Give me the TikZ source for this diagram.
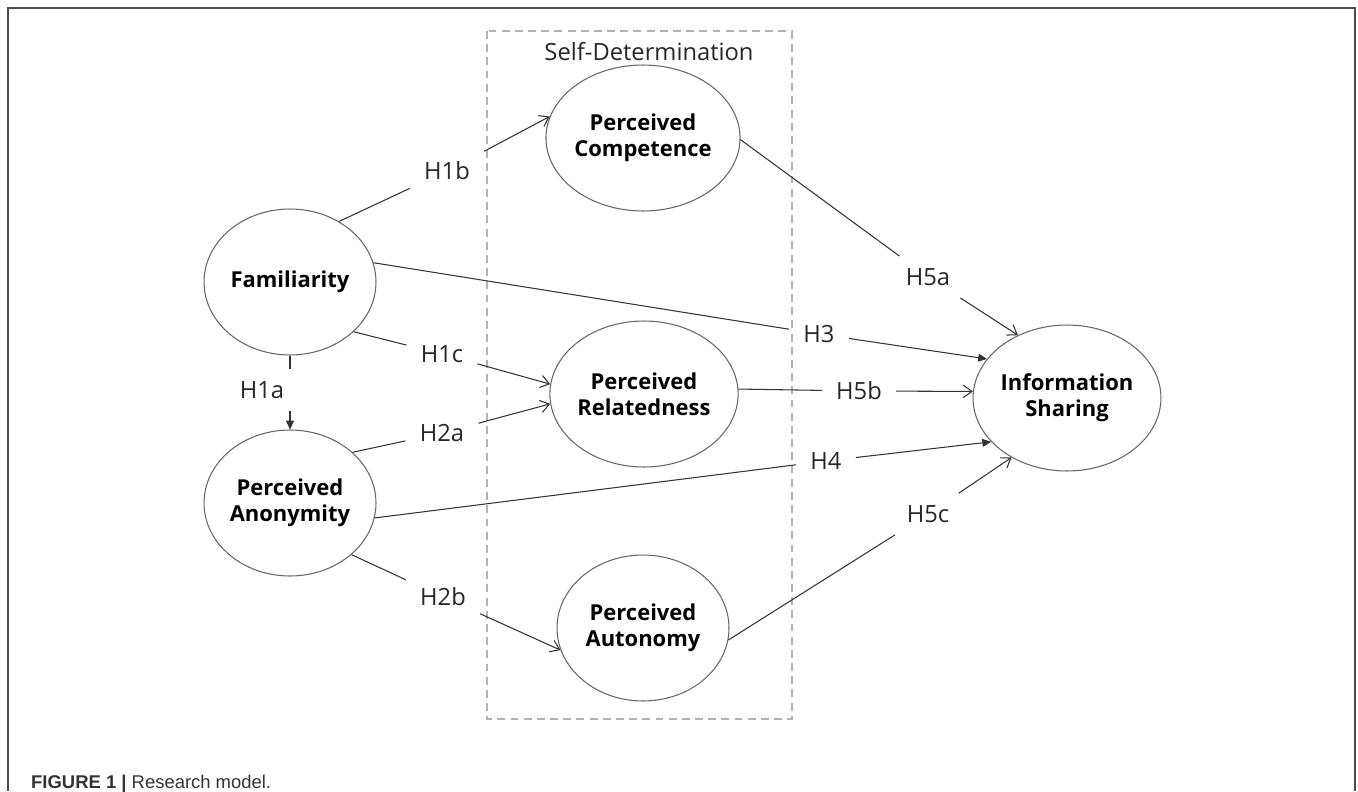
\documentclass[tikz,border=0pt]{standalone}
\usepackage{fontspec}
\setmainfont{Open Sans}
\newfontfamily\capfont{Liberation Sans}
\usepackage{tikz}
\usetikzlibrary{shapes.geometric,arrows.meta}

\tikzset{
  construct/.style={ellipse, draw=black!60, line width=0.6pt, minimum width=3.44cm, minimum height=2.92cm, inner sep=0pt, align=center, font=\fontsize{12.5}{15}\selectfont\bfseries},
  hyp/.style={inner xsep=0.28cm, inner ysep=0.24cm, font=\fontsize{13.5}{16}\selectfont, text=black!85},
  link/.style={draw=black!80, line width=0.6pt},
  openarr/.style={link, -{Straight Barb[length=5pt,width=7pt]}},
  fillarr/.style={link, -{Triangle[length=5pt,width=4.5pt]}},
}

\begin{document}
\begin{tikzpicture}[x=0.02cm, y=-0.02cm]
\useasboundingbox (0,0) rectangle (1358,791);
% frame and group box
\draw [black!70, line width=1.1pt] (8,791) -- (8,8) -- (1355,8) -- (1355,791);
\draw [black!30, line width=0.8pt, dash pattern=on 4.5pt off 3pt] (487,31) rectangle (792,719);
\node [font=\fontsize{13.5}{16}\selectfont, text=black!85] (sdt) at (649,52) {Self-Determination};

\node [construct] (fam) at (290,282) {Familiarity};
\node [construct] (anon) at (290,503) {Perceived\\Anonymity};
\node [construct] (comp) at (643,138) {Perceived\\Competence};
\node [construct] (rel) at (644,394) {Perceived\\Relatedness};
\node [construct] (auton) at (643,628) {Perceived\\Autonomy};
\node [construct] (info) at (1067,398) {Information\\Sharing};

\node [hyp] (h1a) at (262,390) {H1a};
\node [hyp] (h1b) at (447,171) {H1b};
\node [hyp] (h1c) at (442,354) {H1c};
\node [hyp] (h2a) at (442,433) {H2a};
\node [hyp] (h2b) at (443,597) {H2b};
\node [hyp] (h3) at (819,334) {H3};
\node [hyp] (h4) at (826,461) {H4};
\node [hyp] (h5a) at (928,277) {H5a};
\node [hyp] (h5b) at (859,391) {H5b};
\node [hyp] (h5c) at (928,514) {H5c};

% hypotheses
\draw [link] (fam.south) -- (fam.south |- h1a.north);
\draw [fillarr] (fam.south |- h1a.south) -- (anon.north);
\draw [link] (fam.51) -- (h1b);
\draw [openarr] (h1b) -- (comp.167);
\draw [link] (fam.-38) -- (h1c);
\draw [openarr] (h1c) -- (rel.174);
\draw [link] (anon.39) -- (h2a);
\draw [openarr] (h2a) -- (rel.186);
\draw [link] (anon.-40) -- (h2b);
\draw [openarr] (h2b) -- (auton.195);
\draw [link] (fam.13) -- (h3);
\draw [fillarr] (h3) -- (info.154);
\draw [link] (anon.-10) -- (h4);
\draw [fillarr] (h4) -- (info.210);
\draw [link] (comp.-1) -- (h5a);
\draw [openarr] (h5a) -- (info.128);
\draw [link] (rel.3) -- (h5b);
\draw [openarr] (h5b) -- (info.176);
\draw [link] (auton.-8) -- (h5c);
\draw [openarr] (h5c) -- (info.227);

\node [anchor=base west, font=\capfont\fontsize{10.5}{12}\selectfont, text=black!80] (cap) at (25,788) {\textbf{FIGURE 1 |} Research model.};
\end{tikzpicture}
\end{document}
